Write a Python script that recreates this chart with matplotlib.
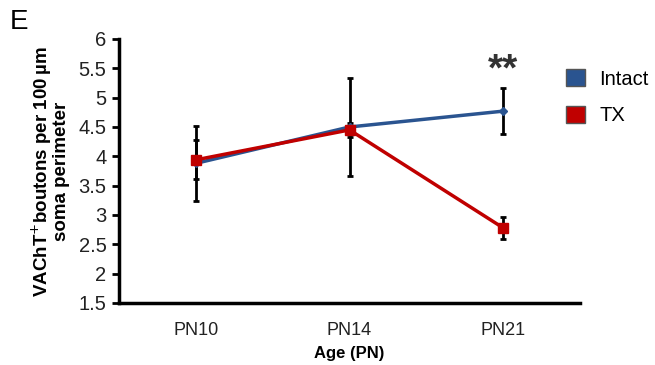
import matplotlib
matplotlib.use("Agg")
import matplotlib.pyplot as plt
from matplotlib.patches import Patch

plt.rcParams['font.family'] = ['Liberation Sans', 'DejaVu Sans']

categories = ["PN10", "PN14", "PN21"]
intact_mean = [3.88, 4.50, 4.77]
intact_err = [0.64, 0.83, 0.39]
tx_mean = [3.94, 4.45, 2.78]
tx_err = [0.33, 0.12, 0.19]
yticks = [1.5, 2, 2.5, 3, 3.5, 4, 4.5, 5, 5.5, 6]

blue = "#2A5490"
red = "#C00000"

fig = plt.figure(figsize=(6.55, 3.65), dpi=100)
ax = fig.add_axes([0.1817, 0.1699, 0.7038, 0.7233])
x = list(range(len(categories)))

ax.errorbar(x, intact_mean, yerr=intact_err, fmt='none', ecolor='black',
            elinewidth=2, capsize=2.5, capthick=2, zorder=2)
ax.errorbar(x, tx_mean, yerr=tx_err, fmt='none', ecolor='black',
            elinewidth=2, capsize=2.5, capthick=2, zorder=2)
ax.plot(x, intact_mean, color=blue, lw=2.5, marker='D', ms=4, zorder=3)
ax.plot(x, tx_mean, color=red, lw=2.5, marker='s', ms=7, zorder=4)

ax.set_xlim(-0.5, 2.5)
ax.set_ylim(1.5, 6)
ax.set_yticks(yticks)
ax.set_yticklabels([f"{v:g}" for v in yticks], fontsize=14.5, color='#222222')
ax.set_xticks(x)
ax.set_xticklabels(categories, fontsize=13, color='#222222')
ax.tick_params(axis='x', length=0, pad=14)
ax.tick_params(axis='y', length=5, width=2, direction='out', pad=4)
for s in ['top', 'right']:
    ax.spines[s].set_visible(False)
for s in ['left', 'bottom']:
    ax.spines[s].set_linewidth(2.5)

ax.set_xlabel("Age (PN)", fontsize=12, fontweight='bold', labelpad=5)
ax.set_ylabel("VAChT$^{+}$boutons per 100\u2009µm\nsoma perimeter", fontsize=13.5,
              fontweight='bold', labelpad=6, linespacing=0.9)

ax.text(2, 5.47, "**", fontsize=28, fontweight='bold', ha='center', va='center', color='#333333')

handles = [Patch(facecolor=blue, edgecolor='#555555'), Patch(facecolor=red, edgecolor='#555555')]
fig.legend(handles, ["Intact", "TX"], loc='upper left', bbox_to_anchor=(0.852, 0.833),
           frameon=False, fontsize=14.5, handlelength=0.95, handleheight=0.95,
           handletextpad=0.7, labelspacing=0.85, borderaxespad=0)

fig.text(0.015, 0.975, "E", fontsize=20, va='top', ha='left')

fig.savefig("out.png", dpi=100)
